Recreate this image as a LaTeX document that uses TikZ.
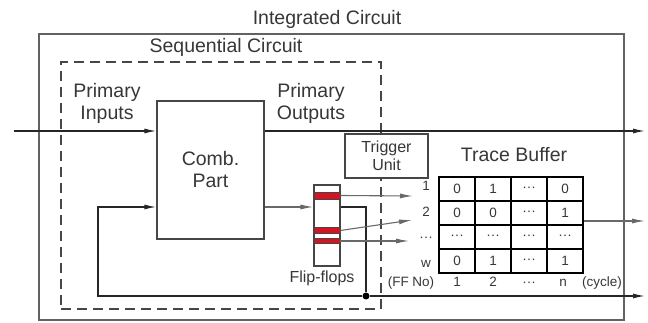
\documentclass[tikz,border=0pt]{standalone}
\usepackage{fontspec}
\setmainfont{Liberation Sans}
\usetikzlibrary{arrows.meta, positioning}
\definecolor{TextGray}{RGB}{55,55,55}
\definecolor{LineGray}{RGB}{70,70,70}
\definecolor{WireGray}{RGB}{105,105,105}
\definecolor{FFRed}{RGB}{210,20,35}
\newcommand{\dts}{···}

\begin{document}
\begin{tikzpicture}[x=1pt, y=-1pt, font=\fontsize{19.5}{22}\selectfont, text=TextGray]
    \tikzset{
        icbox/.style={rectangle, draw=LineGray!85, line width=1.1pt, inner sep=0pt},
        seqbox/.style={rectangle, draw=LineGray, line width=1.1pt,
            dash pattern=on 10pt off 6pt, inner sep=0pt},
        block/.style={rectangle, draw=LineGray, line width=1.2pt, fill=white,
            inner sep=0pt, align=center},
        bar/.style={rectangle, draw=LineGray, line width=0.6pt, fill=FFRed,
            minimum width=26pt, minimum height=7pt, inner sep=0pt},
        cell/.style={rectangle, draw=black, line width=1.2pt, minimum width=36pt,
            minimum height=24pt, inner sep=0pt, font=\fontsize{13.5}{15}\selectfont},
        big/.style={anchor=base, inner sep=0pt},
        small/.style={anchor=base, inner sep=0pt, font=\fontsize{13.5}{15}\selectfont},
        mid/.style={inner sep=0pt, font=\fontsize{16}{18}\selectfont, align=center},
        wire/.style={draw=black!85, line width=1.3pt},
        sig/.style={wire, -{Latex[length=12pt, width=5pt]}},
        tap/.style={draw=WireGray, line width=1.1pt, -{Latex[length=13pt, width=5pt]}},
        junction/.style={circle, fill=black, minimum size=7pt, inner sep=0pt}
    }
    \useasboundingbox (0,0) rectangle (648,323);
    \node[icbox, minimum width=585pt, minimum height=286pt] (ic) at (331.5,177) {};
    \node[big] (ictitle) at (327,25) {Integrated Circuit};
    \node[seqbox, minimum width=320pt, minimum height=247pt] (seq) at (221,185.5) {};
    \node[big] (seqtitle) at (226,53) {Sequential Circuit};
    \node[inner sep=0pt, align=center] (pin) at (107,103) {Primary\\Inputs};
    \node[inner sep=0pt, align=center] (pout) at (311,103) {Primary\\Outputs};
    \node[block, minimum width=107pt, minimum height=138pt] (comb) at (210.5,170) {Comb.\\Part};
    \node[block, mid, minimum width=83pt, minimum height=44pt, inner sep=0pt] (trig) at (386.5,156) {Trigger\\Unit};
    \node[block, minimum width=26pt, minimum height=81pt] (ff) at (327,225.5) {};
    \node[bar] (bar1) at (327,195.5) {};
    \node[bar, minimum height=6.5pt] (bar2) at (327,230.5) {};
    \node[bar, minimum height=5.5pt] (bar3) at (327,241) {};
    \node[big, font=\fontsize{16}{18}\selectfont] (fflabel) at (322,283) {Flip-flops};
    \node[big] (tbtitle) at (514,162) {Trace Buffer};
    \node[cell] (c11) at (457,189) {0};
    \node[cell] (c12) at (493,189) {1};
    \node[cell] (c13) at (529,189) {\dts};
    \node[cell] (c14) at (565,189) {0};
    \node[cell] (c21) at (457,213) {0};
    \node[cell] (c22) at (493,213) {0};
    \node[cell] (c23) at (529,213) {\dts};
    \node[cell] (c24) at (565,213) {1};
    \node[cell] (c31) at (457,237) {\dts};
    \node[cell] (c32) at (493,237) {\dts};
    \node[cell] (c33) at (529,237) {\dts};
    \node[cell] (c34) at (565,237) {\dts};
    \node[cell] (c41) at (457,261) {0};
    \node[cell] (c42) at (493,261) {1};
    \node[cell] (c43) at (529,261) {\dts};
    \node[cell] (c44) at (565,261) {1};
    \node[small] (rl1) at (426,191) {1};
    \node[small] (rl2) at (426,217) {2};
    \node[small] (rl3) at (426,241) {\dts};
    \node[small] (rl4) at (426,268) {w};
    \node[small] (rlname) at (411,286) {(FF No)};
    \node[small] (cl1) at (457,286) {1};
    \node[small] (cl2) at (493,286) {2};
    \node[small] (cl3) at (529,286) {\dts};
    \node[small] (cl4) at (563,286) {n};
    \node[small] (clname) at (602,286) {(cycle)};
    \node[junction] (dot) at (366,296) {};
    \coordinate (inend) at (14,131);
    \coordinate (outend) at (645,131);
    \coordinate (loop) at (98,207);
    \coordinate (fbend) at (645,296);
    \coordinate (tbend) at (645,221);
    \coordinate (r1) at (413,196);
    \coordinate (r2) at (412,220);
    \coordinate (r3) at (409,241);
    \draw[sig] (inend) -- (inend -| comb.west);
    \draw[sig] (comb.east |- outend) -- (outend);
    \draw[tap] (comb.east |- loop) -- (ff.west |- loop);
    \draw[wire] (ff.east |- loop) -| (dot);
    \draw[sig] (dot) -| (loop) -- (loop -| comb.west);
    \draw[sig] (dot) -- (fbend);
    \draw[tap] (bar1.east) -- (r1);
    \draw[tap] (bar2.east) -- (r2);
    \draw[tap] (bar3.east) -- (r3);
    \draw[tap] (c14.east |- tbend) -- (tbend);
\end{tikzpicture}
\end{document}
